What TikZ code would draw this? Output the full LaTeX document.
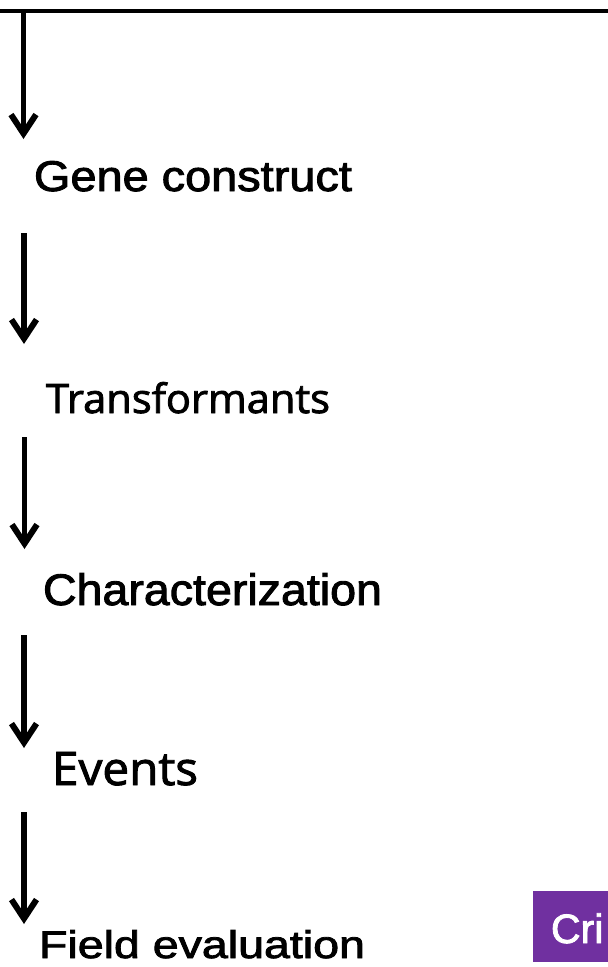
\documentclass[tikz,border=0pt]{standalone}
\usepackage{fontspec}
\setmainfont[FakeBold=2]{Liberation Sans}
\newfontfamily\humfont[FakeBold=2]{Open Sans}
\usetikzlibrary{arrows.meta}
\definecolor{boxpurple}{RGB}{112,48,160}
\tikzset{
  flowarrow/.style={line width=5.5pt, -{Straight Barb[length=19pt,width=25pt,line width=6pt]}},
  steplabel/.style={anchor=base west, inner sep=0pt, outer sep=0pt},
}
\newcommand{\fitlabel}[3]{\resizebox{#1pt}{#2pt}{#3}}
\begin{document}
\begin{tikzpicture}[x=1pt,y=-1pt]
\useasboundingbox (0,0) rectangle (608,967);
% top rule
\coordinate (topL) at (0,11.3);
\coordinate (topR) at (608,11.3);
\draw[line width=4pt] (topL) -- (topR);
% arrow coordinates
\coordinate (a1s) at (23.5,11.3); \coordinate (a1t) at (23.5,139);
\coordinate (a2s) at (24,233);    \coordinate (a2t) at (24,344);
\coordinate (a3s) at (24.5,437);  \coordinate (a3t) at (24.5,549);
\coordinate (a4s) at (24,635);    \coordinate (a4t) at (24,748);
\coordinate (a5s) at (24,812);    \coordinate (a5t) at (24,924);
\draw[flowarrow] (a1s) -- (a1t);
\draw[flowarrow] (a2s) -- (a2t);
\draw[flowarrow] (a3s) -- (a3t);
\draw[flowarrow] (a4s) -- (a4t);
\draw[flowarrow] (a5s) -- (a5t);
% labels
\node (gene) [steplabel] at (34,191) {\fitlabel{318}{30}{Gene construct}};
\node (trans) [steplabel] at (46,413) {\fitlabel{284}{31}{\humfont Transformants}};
\node (charac) [steplabel] at (43,605) {\fitlabel{339}{32}{Characterization}};
\node (events) [steplabel] at (52,785) {\fitlabel{146}{33}{\humfont Events}};
\node (field) [steplabel] at (39,958) {\fitlabel{326}{28}{Field evaluation}};
% purple box, cut by the right edge
\node (critbox) [fill=boxpurple, anchor=north west, minimum width=75pt, minimum height=71pt, inner sep=0pt] at (533,891) {};
\node (crit) [steplabel, text=white] at (551,943) {\fontsize{41}{48}\selectfont Cri};
\end{tikzpicture}
\end{document}
